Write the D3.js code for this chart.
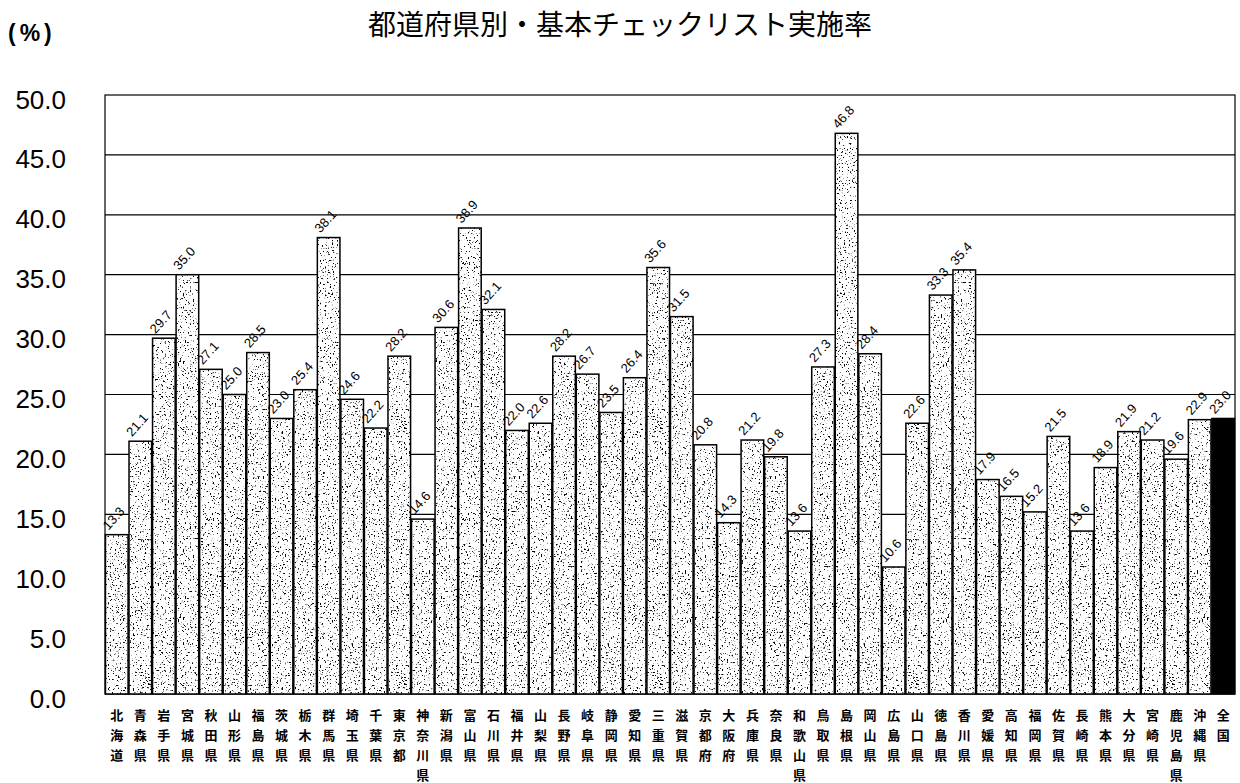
<!DOCTYPE html>
<meta charset="utf-8">
<style>
  body { margin: 0; background: #fff; }
  text { font-family: "Liberation Sans", Arial, sans-serif; }
  .jp { font-family: "Noto Sans CJK JP", sans-serif; }
</style>
<body>
<svg width="1240" height="783"></svg>
</body>
<script src="https://d3js.org/d3.v7.min.js"></script>
<script>

// prefecture names and check-list rates (%)
var prefs = ["北海道","青森県","岩手県","宮城県","秋田県","山形県","福島県","茨城県","栃木県","群馬県",
  "埼玉県","千葉県","東京都","神奈川県","新潟県","富山県","石川県","福井県","山梨県","長野県",
  "岐阜県","静岡県","愛知県","三重県","滋賀県","京都府","大阪府","兵庫県","奈良県","和歌山県",
  "鳥取県","島根県","岡山県","広島県","山口県","徳島県","香川県","愛媛県","高知県","福岡県",
  "佐賀県","長崎県","熊本県","大分県","宮崎県","鹿児島県","沖縄県","全国"];
var rates = [13.3,21.1,29.7,35.0,27.1,25.0,28.5,23.0,25.4,38.1,
  24.6,22.2,28.2,14.6,30.6,38.9,32.1,22.0,22.6,28.2,
  26.7,23.5,26.4,35.6,31.5,20.8,14.3,21.2,19.8,13.6,
  27.3,46.8,28.4,10.6,22.6,33.3,35.4,17.9,16.5,15.2,
  21.5,13.6,18.9,21.9,21.2,19.6,22.9,23.0];
var yTicks = [0,5,10,15,20,25,30,35,40,45,50];

var data = prefs.map(function(p, i) { return {name: p, value: rates[i]}; });

var svg = d3.select("svg"),
    margin = {top: 95, right: 5, bottom: 89, left: 105},
    width = +svg.attr("width") - margin.left - margin.right,
    height = +svg.attr("height") - margin.top - margin.bottom;

// stipple texture for the bars
var defs = svg.append("defs");
var f = defs.append("filter").attr("id", "noiseF");
f.append("feTurbulence")
    .attr("type", "fractalNoise")
    .attr("baseFrequency", 0.6)
    .attr("numOctaves", 3)
    .attr("seed", 7)
    .attr("stitchTiles", "stitch");
f.append("feColorMatrix")
    .attr("type", "matrix")
    .attr("values", "0 0 0 0 0  0 0 0 0 0  0 0 0 0 0  1 0 0 0 0");
f.append("feComponentTransfer")
  .append("feFuncA")
    .attr("type", "linear")
    .attr("slope", 10)
    .attr("intercept", -6.2);
defs.append("pattern")
    .attr("id", "stipple")
    .attr("patternUnits", "userSpaceOnUse")
    .attr("width", 256).attr("height", 256)
  .append("rect")
    .attr("width", 256).attr("height", 256)
    .attr("filter", "url(#noiseF)");

var g = svg.append("g").attr("transform", "translate(" + margin.left + "," + margin.top + ")");

var x = d3.scaleBand()
    .domain(prefs)
    .range([0, width])
    .paddingInner(0.04)
    .paddingOuter(0.02);
var y = d3.scaleLinear()
    .domain([0, 50])
    .range([height, 0]);

// title and unit
svg.append("text")
    .attr("class", "jp")
    .attr("x", 620).attr("y", 35)
    .attr("text-anchor", "middle")
    .style("font-size", "28px")
    .text("都道府県別・基本チェックリスト実施率");
svg.append("text")
    .attr("x", 8).attr("y", 41)
    .style("font-size", "23px")
    .style("font-weight", "bold")
    .style("letter-spacing", "4px")
    .text("(%)");

// gridlines
g.selectAll(".grid")
  .data(yTicks.filter(function(d) { return d > 0 && d < 50; }))
  .enter().append("line")
    .attr("x1", 0).attr("x2", width)
    .attr("y1", function(d) { return y(d); })
    .attr("y2", function(d) { return y(d); })
    .attr("stroke", "#000")
    .attr("stroke-width", 1.2);

g.append("rect")
    .attr("width", width).attr("height", height)
    .attr("fill", "none")
    .attr("stroke", "#000")
    .attr("stroke-width", 1.2);

// y axis labels
var yAxis = g.append("g")
    .call(d3.axisLeft(y).tickValues(yTicks).tickSize(0).tickPadding(39)
      .tickFormat(d3.format(".1f")));
yAxis.select(".domain").remove();
yAxis.selectAll("text")
    .attr("dy", "0.5em")
    .style("font-family", "'Liberation Sans', Arial, sans-serif")
    .style("font-size", "26px")
    .attr("fill", "#000");

// bars
var bars = g.selectAll(".bar")
  .data(data)
  .enter().append("g")
    .attr("class", "bar");

bars.append("rect")
    .attr("x", function(d) { return x(d.name); })
    .attr("y", function(d) { return y(d.value); })
    .attr("width", x.bandwidth())
    .attr("height", function(d) { return height - y(d.value); })
    .attr("fill", function(d) { return d.name == "全国" ? "#000" : "#fff"; });

bars.filter(function(d) { return d.name != "全国"; })
  .append("rect")
    .attr("x", function(d) { return x(d.name); })
    .attr("y", function(d) { return y(d.value); })
    .attr("width", x.bandwidth())
    .attr("height", function(d) { return height - y(d.value); })
    .attr("fill", "url(#stipple)");

bars.append("rect")
    .attr("x", function(d) { return x(d.name); })
    .attr("y", function(d) { return y(d.value); })
    .attr("width", x.bandwidth())
    .attr("height", function(d) { return height - y(d.value); })
    .attr("fill", "none")
    .attr("stroke", "#000")
    .attr("stroke-width", 1.5);

// value labels
bars.append("text")
    .attr("transform", function(d) {
      return "translate(" + (x(d.name) + 3) + "," + (y(d.value) - 4) + ") rotate(-48)";
    })
    .style("font-size", "13px")
    .text(function(d) { return d.value.toFixed(1); });

// vertical prefecture names
bars.each(function(d) {
  var chars = d.name.split("");
  var sel = d3.select(this);
  chars.forEach(function(c, i) {
    sel.append("text")
        .attr("class", "jp")
        .attr("x", x(d.name) + x.bandwidth() / 2)
        .attr("y", height + 26 + i * 20)
        .attr("text-anchor", "middle")
        .style("font-size", "13px")
        .style("font-weight", "bold")
        .text(c);
  });
});

</script>
